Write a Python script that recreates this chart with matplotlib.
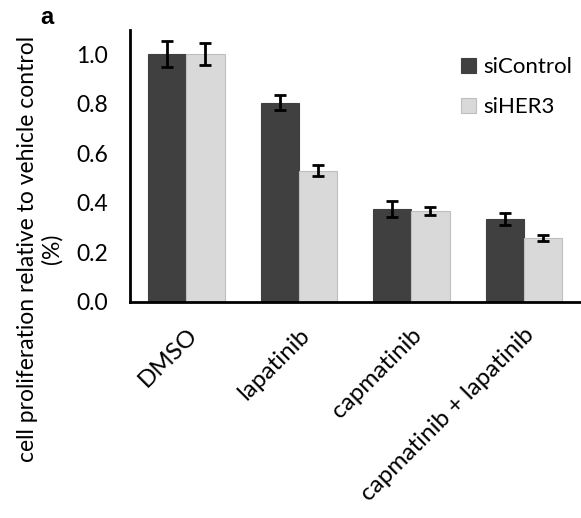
import numpy as np
import matplotlib.pyplot as plt

plt.rcParams['font.family'] = ['Lato', 'DejaVu Sans']

# Datos
categorias = ["DMSO", "lapatinib", "capmatinib", "capmatinib + lapatinib"]
si_control = [1.0, 0.804, 0.375, 0.335]
si_control_err = [0.054, 0.03, 0.034, 0.024]
si_her3 = [1.0, 0.529, 0.367, 0.257]
si_her3_err = [0.045, 0.022, 0.016, 0.012]
yticks = [0.0, 0.2, 0.4, 0.6, 0.8, 1.0]

x = np.arange(len(categorias))
w = 0.34

fig = plt.figure(figsize=(5.81, 5.18), dpi=100)
ax = fig.add_axes([130 / 581, 1 - 302 / 518, 450 / 581, 272 / 518])

ekw = dict(elinewidth=2, capthick=2, capsize=4, ecolor="black")
ax.bar(x - w / 2, si_control, w, yerr=si_control_err, color="#404040",
       edgecolor="#404040", linewidth=0.8, label="siControl", error_kw=ekw)
ax.bar(x + w / 2, si_her3, w, yerr=si_her3_err, color="#d9d9d9",
       edgecolor="#bfbfbf", linewidth=0.8, label="siHER3", error_kw=ekw)

ax.set_xlim(-0.5, 3.5)
ax.set_ylim(0, 1.097)
ax.set_yticks(yticks)
ax.set_yticklabels(["%.1f" % v for v in yticks], fontsize=16.5)
ax.set_xticks(x)
ax.set_xticklabels(categorias, rotation=45, ha="right", rotation_mode="anchor",
                   fontsize=17.5)
ax.tick_params(axis="y", length=0, pad=16)
ax.tick_params(axis="x", length=0, pad=16)

for s in ["top", "right"]:
    ax.spines[s].set_visible(False)
ax.spines["left"].set_linewidth(2)
ax.spines["bottom"].set_linewidth(2)

ax.legend(loc="upper left", bbox_to_anchor=(0.735, 0.9), frameon=False,
          fontsize=16, handlelength=0.7, handleheight=0.7, handletextpad=0.3,
          labelspacing=0.9, borderaxespad=0, borderpad=0)

fig.text(40 / 581, 1 - 249 / 518,
         "cell proliferation relative to vehicle control\n(%)",
         rotation=90, ha="center", va="center", fontsize=16.5,
         multialignment="center", linespacing=1.15)
fig.text(40 / 581, 1 - 17 / 518, "a", fontsize=17, fontweight="bold",
         family="Liberation Sans", va="center")

fig.savefig("out.png", dpi=100)
